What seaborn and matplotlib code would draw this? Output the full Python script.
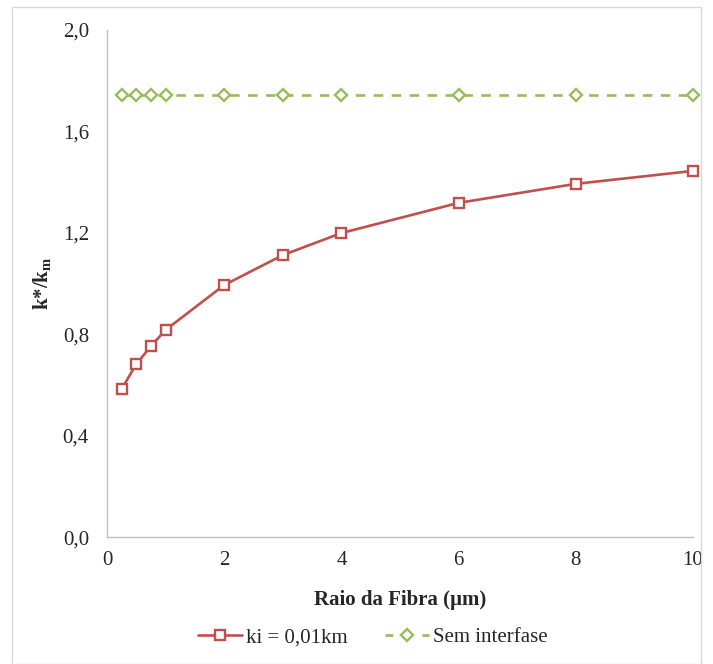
import numpy as np
import pandas as pd
import seaborn as sns
import matplotlib.pyplot as plt
from matplotlib.ticker import FuncFormatter
from matplotlib.patches import Rectangle
from matplotlib.lines import Line2D

# Data
raio = [0.25, 0.5, 0.75, 1, 2, 3, 4, 6, 8, 10]
k_ki = [0.584, 0.682, 0.753, 0.817, 0.994, 1.112, 1.199, 1.318, 1.393, 1.444]
k_sem = [1.744] * len(raio)

df = pd.DataFrame({
    "raio": raio * 2,
    "k": k_ki + k_sem,
    "serie": ["ki = 0,01km"] * len(raio) + ["Sem interfase"] * len(raio),
})

sns.set_style("white")
plt.rcParams["font.family"] = ["Liberation Serif", "DejaVu Serif"]
plt.rcParams["mathtext.fontset"] = "custom"
plt.rcParams["mathtext.rm"] = "Liberation Serif"
plt.rcParams["mathtext.bf"] = "Liberation Serif:bold"

fig = plt.figure(figsize=(7.13, 6.64), dpi=100)
ax = fig.add_axes([0.150, 0.191, 0.822, 0.764])

red = "#C0504D"
green = "#9BBB59"

sns.lineplot(data=df, x="raio", y="k", hue="serie", style="serie",
             palette=[red, green], markers=["s", "D"],
             dashes=[(None, None), (3.6, 3.2)], linewidth=1.9,
             markersize=6.5, markerfacecolor="white", markeredgewidth=1.7,
             ax=ax, legend=False)
for line, c in zip(ax.lines, [red, green]):
    line.set_markeredgecolor(c)
    line.set_clip_on(False)

ax.set_xlim(0, 10)
ax.set_ylim(0, 2.0)
ax.set_xticks([0, 2, 4, 6, 8, 10])
ax.set_yticks(np.arange(0, 2.01, 0.4))
ax.yaxis.set_major_formatter(FuncFormatter(lambda v, p: f"{v:.1f}".replace(".", ",")))
ax.tick_params(axis="y", length=0, labelsize=15, pad=13)
ax.tick_params(axis="x", length=0, labelsize=15, pad=10)

for s in ["top", "right"]:
    ax.spines[s].set_visible(False)
ax.spines["left"].set_color("#BFBFBF")
ax.spines["bottom"].set_color("#BFBFBF")
ax.spines["left"].set_linewidth(1)
ax.spines["bottom"].set_linewidth(1)

ax.set_xlabel("Raio da Fibra (µm)", fontsize=15, fontweight="bold", labelpad=14)
ax.set_ylabel("k*/k$_\\mathbf{m}$", fontsize=15, fontweight="bold", labelpad=6)

handles = [
    Line2D([], [], color=red, lw=1.9, marker="s", markersize=6.5,
           markerfacecolor="white", markeredgecolor=red, markeredgewidth=1.7),
    Line2D([], [], color=green, lw=1.9, ls=(0, (3, 4)), marker="D", markersize=6.5,
           markerfacecolor="white", markeredgecolor=green, markeredgewidth=1.7),
]
fig.legend(handles, ["ki = 0,01km", "Sem interfase"], loc="center",
           bbox_to_anchor=(0.523, 0.04), ncol=2, frameon=False, fontsize=15,
           handlelength=2.1, columnspacing=1.8, handletextpad=0.2)

fig.patches.append(Rectangle((12 / 713, 0.0), 1 - 24 / 713, 1 - 7 / 664,
                             transform=fig.transFigure, fill=False,
                             edgecolor="#D9D9D9", lw=1))

fig.savefig("out.png", dpi=100)
